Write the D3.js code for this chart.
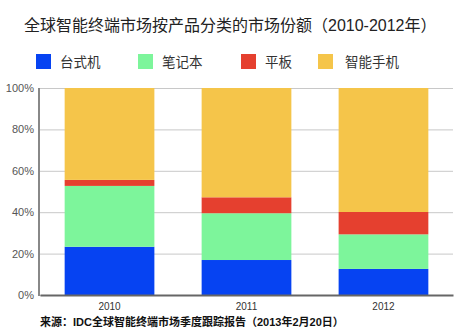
<!DOCTYPE html>
<html><head><meta charset="utf-8">
<script src="https://cdn.jsdelivr.net/npm/d3@7"></script>
<style>body{margin:0;background:#fff;} svg{display:block;}</style>
</head><body>
<svg id="c" width="468" height="332"></svg>
<script>
const title = "全球智能终端市场按产品分类的市场份额（2010-2012年）";
const source = "来源：IDC全球智能终端市场季度跟踪报告（2013年2月20日）";
const years = ["2010", "2011", "2012"];
const seriesNames = ["台式机", "笔记本", "平板", "智能手机"];
const colors = ["#0643f2", "#7df59b", "#e5402f", "#f5c54a"];
const desktop = [23.3, 16.9, 12.6];
const laptop = [29.4, 22.6, 16.7];
const tablet = [2.9, 7.7, 10.8];
const phone = [44.4, 52.8, 59.9];
const yTicks = [0, 20, 40, 60, 80, 100];

(function () {
const svg = d3.select("#c");
const font = "Arial, 'Liberation Sans', 'Noto Sans CJK SC', sans-serif";
const mLeft = 40, mRight = 453, mTop = 88, mBottom = 295;

const x = d3.scaleBand().domain(years).range([mLeft, mRight]).paddingInner(0.345).paddingOuter(0.18);
const y = d3.scaleLinear().domain([0, 100]).range([mBottom, mTop]);

svg.append("text").attr("x", 24).attr("y", 31).text(title)
  .attr("font-family", font).attr("font-size", 16).attr("fill", "#222");

// legend
const legX = [36, 138, 241, 318];
seriesNames.forEach((n, i) => {
  svg.append("rect").attr("x", legX[i]).attr("y", 54).attr("width", 15).attr("height", 15).attr("fill", colors[i]);
  svg.append("text").attr("x", legX[i] + (i === 3 ? 27 : 24)).attr("y", 67).text(n)
    .attr("font-family", font).attr("font-size", 13.5).attr("fill", "#333");
});

// grid
const gAxis = svg.append("g").attr("transform", `translate(${mLeft},0)`)
  .call(d3.axisLeft(y).tickValues(yTicks).tickFormat(d => d + "%").tickSize(-(mRight - mLeft)).tickPadding(6));
gAxis.select(".domain").remove();
gAxis.selectAll(".tick line").attr("stroke", "#c8c8c8").attr("stroke-width", 1);
gAxis.selectAll(".tick text").attr("font-family", font).attr("font-size", 11).attr("fill", "#555");

// bars
const data = years.map((yr, i) => ({year: yr, s0: desktop[i], s1: laptop[i], s2: tablet[i], s3: phone[i]}));
const stack = d3.stack().keys(["s0", "s1", "s2", "s3"])(data);
svg.append("g").selectAll("g").data(stack).join("g").attr("fill", (d, i) => colors[i])
  .selectAll("rect").data(d => d).join("rect")
  .attr("x", d => x(d.data.year)).attr("width", x.bandwidth())
  .attr("y", d => y(d[1])).attr("height", d => y(d[0]) - y(d[1]));

// axes lines
svg.append("line").attr("x1", mLeft - 1).attr("x2", mLeft - 1).attr("y1", mTop).attr("y2", mBottom + 1)
  .attr("stroke", "#888").attr("stroke-width", 2);
const gx = svg.append("g").attr("transform", `translate(0,${mBottom})`)
  .call(d3.axisBottom(x).tickSize(0).tickPadding(8));
gx.select(".domain").attr("stroke", "#666").attr("stroke-width", 2);
gx.selectAll(".tick text").attr("font-family", font).attr("font-size", 10).attr("fill", "#333");

svg.append("text").attr("x", 40).attr("y", 326).text(source)
  .attr("font-family", font).attr("font-size", 11).attr("font-weight", "bold").attr("fill", "#111");
})();
</script>
</body></html>
